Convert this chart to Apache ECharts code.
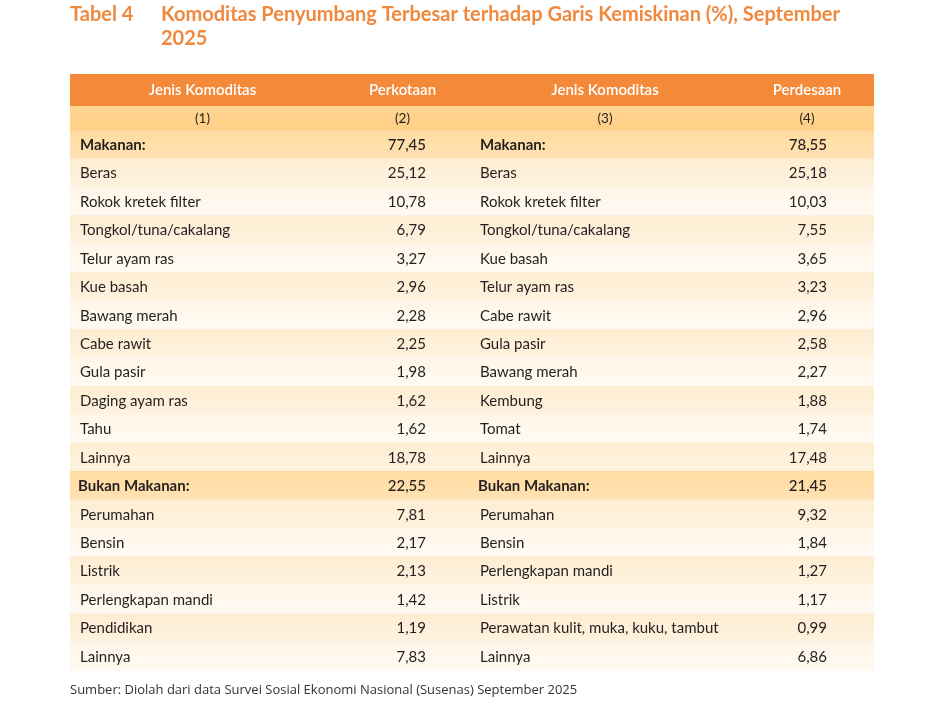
<!DOCTYPE html>
<html>
<head>
<meta charset="utf-8">
<script src="https://cdn.jsdelivr.net/npm/echarts@6/dist/echarts.min.js"></script>
<style>
html,body{margin:0;padding:0;background:#fff;}
#chart{width:940px;height:713px;}
</style>
</head>
<body>
<div id="chart"></div>
<script>
// ---- data ----
const headerLabels = ['Jenis Komoditas', 'Perkotaan', 'Jenis Komoditas', 'Perdesaan'];
const columnNumbers = ['(1)', '(2)', '(3)', '(4)'];

const groupLabels = ['Makanan:', 'Bukan Makanan:'];
const urbanGroupTotals = ['77,45', '22,55'];
const ruralGroupTotals = ['78,55', '21,45'];

const urbanFoodItems = ['Beras', 'Rokok kretek filter', 'Tongkol/tuna/cakalang', 'Telur ayam ras', 'Kue basah', 'Bawang merah', 'Cabe rawit', 'Gula pasir', 'Daging ayam ras', 'Tahu', 'Lainnya'];
const urbanFoodValues = ['25,12', '10,78', '6,79', '3,27', '2,96', '2,28', '2,25', '1,98', '1,62', '1,62', '18,78'];
const ruralFoodItems = ['Beras', 'Rokok kretek filter', 'Tongkol/tuna/cakalang', 'Kue basah', 'Telur ayam ras', 'Cabe rawit', 'Gula pasir', 'Bawang merah', 'Kembung', 'Tomat', 'Lainnya'];
const ruralFoodValues = ['25,18', '10,03', '7,55', '3,65', '3,23', '2,96', '2,58', '2,27', '1,88', '1,74', '17,48'];

const urbanNonFoodItems = ['Perumahan', 'Bensin', 'Listrik', 'Perlengkapan mandi', 'Pendidikan', 'Lainnya'];
const urbanNonFoodValues = ['7,81', '2,17', '2,13', '1,42', '1,19', '7,83'];
const ruralNonFoodItems = ['Perumahan', 'Bensin', 'Perlengkapan mandi', 'Listrik', 'Perawatan kulit, muka, kuku, tambut', 'Lainnya'];
const ruralNonFoodValues = ['9,32', '1,84', '1,27', '1,17', '0,99', '6,86'];

const titleLabel = 'Tabel 4';
const titleText = 'Komoditas Penyumbang Terbesar terhadap Garis Kemiskinan (%), September\n2025';
const sourceText = 'Sumber: Diolah dari data Survei Sosial Ekonomi Nasional (Susenas) September 2025';

// ---- table rows built from data ----
const rows = [];
rows.push({ kind: 'header', cells: headerLabels });
rows.push({ kind: 'colnum', cells: columnNumbers });
rows.push({ kind: 'group', cells: [groupLabels[0], urbanGroupTotals[0], groupLabels[0], ruralGroupTotals[0]] });
urbanFoodItems.forEach((n, i) => rows.push({ kind: 'item', cells: [n, urbanFoodValues[i], ruralFoodItems[i], ruralFoodValues[i]] }));
rows.push({ kind: 'group', cells: [groupLabels[1], urbanGroupTotals[1], groupLabels[1], ruralGroupTotals[1]] });
urbanNonFoodItems.forEach((n, i) => rows.push({ kind: 'item', cells: [n, urbanNonFoodValues[i], ruralNonFoodItems[i], ruralNonFoodValues[i]] }));

// ---- layout (axis units) ----
const colEdges = [0, 265, 400, 670, 804];
const rowHeights = rows.map(r => r.kind === 'header' ? 32 : r.kind === 'colnum' ? 24 : 28.42);
const rowEdges = [0];
rowHeights.forEach(h => rowEdges.push(rowEdges[rowEdges.length - 1] + h));
const totalH = rowEdges[rowEdges.length - 1];

const FONT = 'Lato';
const TXT = '#231f20';

function rowFill(r, idx) {
  const G = echarts.graphic.LinearGradient;
  if (r.kind === 'header') return '#f5893a';
  if (r.kind === 'colnum') return new G(0, 0, 0, 1, [{ offset: 0, color: '#ffd592' }, { offset: 1, color: '#ffcf84' }]);
  if (r.kind === 'group') return new G(0, 0, 0, 1, [{ offset: 0, color: '#ffdba0' }, { offset: 1, color: '#ffe2b2' }]);
  const odd = (idx % 2) === 1;
  return odd
    ? new G(0, 0, 0, 1, [{ offset: 0, color: '#feedd2' }, { offset: 1, color: '#fef2df' }])
    : new G(0, 0, 0, 1, [{ offset: 0, color: '#fff6e8' }, { offset: 1, color: '#fffaf2' }]);
}

const chart = echarts.init(document.getElementById('chart'), null, { renderer: 'canvas' });
chart.setOption({
  backgroundColor: '#ffffff',
  animation: false,
  title: [
    { text: titleLabel, left: 70, top: 3, padding: 0, textStyle: { fontFamily: FONT, fontWeight: 'bold', fontSize: 20, color: '#f0883e', lineHeight: 23.5 } },
    { text: titleText, left: 161, top: 3, padding: 0, textStyle: { fontFamily: FONT, fontWeight: 'bold', fontSize: 20, color: '#f0883e', lineHeight: 23.5 } },
    { text: sourceText, left: 70, top: 684, padding: 0, textStyle: { fontFamily: 'Open Sans', fontWeight: 'normal', fontSize: 13, color: '#333333' } }
  ],
  grid: { left: 70, right: 66, top: 74, bottom: 713 - 74 - totalH, containLabel: false },
  xAxis: { type: 'value', min: 0, max: 804, show: false },
  yAxis: { type: 'value', min: 0, max: totalH, inverse: true, show: false },
  series: [{
    type: 'custom',
    clip: false,
    data: rows.map((r, i) => [i]),
    renderItem: function (params, api) {
      const i = api.value(0);
      const r = rows[i];
      const tl = api.coord([colEdges[0], rowEdges[i]]);
      const br = api.coord([colEdges[4], rowEdges[i + 1]]);
      const cy = (tl[1] + br[1]) / 2 + (r.kind === 'header' ? 0 : 1);
      const children = [{
        type: 'rect',
        shape: { x: tl[0], y: tl[1], width: br[0] - tl[0], height: br[1] - tl[1] + 0.5 },
        style: { fill: rowFill(r, i - 2) }
      }];
      const xs = colEdges.map(e => api.coord([e, 0])[0]);
      r.cells.forEach((t, c) => {
        let x, align, color = TXT, weight = 'normal', size = 15;
        if (r.kind === 'header' || r.kind === 'colnum') {
          x = (xs[c] + xs[c + 1]) / 2; align = 'center';
          if (r.kind === 'header') { color = '#ffffff'; weight = 600; size = 15; }
          else { size = 13.5; }
        } else if (c % 2 === 0) {
          x = xs[c] + (r.kind === 'group' && i > 5 ? 8 : 10); align = 'left';
          if (r.kind === 'group') weight = 'bold';
        } else {
          x = xs[c + 1] - (c === 1 ? 44 : 47); align = 'right';
          if (r.kind === 'group') weight = 500;
        }
        children.push({
          type: 'text',
          style: { text: t, x: x, y: cy, align: align, verticalAlign: 'middle', fill: color, fontFamily: FONT, fontSize: size, fontWeight: weight }
        });
      });
      return { type: 'group', children: children };
    }
  }]
});
</script>
</body>
</html>
